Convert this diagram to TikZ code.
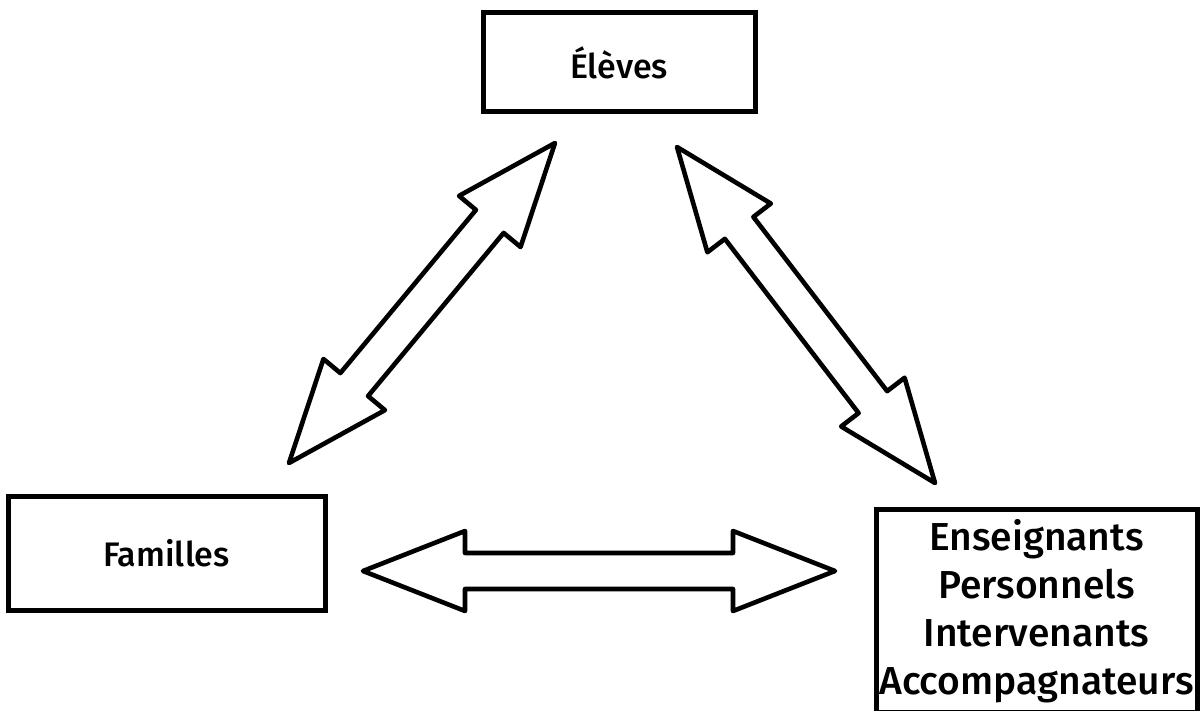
\documentclass[tikz,border=0pt]{standalone}
\usepackage{fontspec}
\setmainfont{Fira Sans}
\newfontfamily\labelfont{Fira Sans Medium}
\usetikzlibrary{calc}
\tikzset{
  boite/.style={draw,line width=2.5pt,inner sep=0pt,align=center,font=\labelfont\fontsize{17}{20}\selectfont},
  fleche/.style={line width=2.3pt,line join=round}
}
% double block arrow between two named points
\newcommand{\dblfleche}[2]{%
  \draw[fleche] let \p1=($(#2)-(#1)$), \n1={atan2(\y1,\x1)} in
    (#1) -- ($(#1)+(\n1:51pt)+(\n1+90:20pt)$) -- ($(#1)+(\n1:51pt)+(\n1+90:9pt)$)
    -- ($(#2)+(\n1:-51pt)+(\n1+90:9pt)$) -- ($(#2)+(\n1:-51pt)+(\n1+90:20pt)$)
    -- (#2) -- ($(#2)+(\n1:-51pt)+(\n1-90:20pt)$) -- ($(#2)+(\n1:-51pt)+(\n1-90:9pt)$)
    -- ($(#1)+(\n1:51pt)+(\n1-90:9pt)$) -- ($(#1)+(\n1:51pt)+(\n1-90:20pt)$) -- cycle;}
\begin{document}
\begin{tikzpicture}[x=0.5pt,y=-0.5pt]
  \useasboundingbox (0,0) rectangle (1201,711);
  \node[boite,minimum width=136pt,minimum height=49.5pt] (eleves) at (619,62.5) {Élèves};
  \node[boite,minimum width=158.5pt,minimum height=56.5pt] (familles) at (166.5,553.5) {Familles};
  \node[boite,minimum width=160.5pt,minimum height=101pt,font=\labelfont\fontsize{19.5}{24}\selectfont] (equipe) at (1036.5,611)
    {Enseignants\\Personnels\\Intervenants\\Accompagnateurs};
  \coordinate (fe) at (289,463); \coordinate (ef) at (555,143);
  \coordinate (ee) at (677,147); \coordinate (pe) at (935,483);
  \coordinate (fp) at (363,571); \coordinate (pf) at (835,571);
  \dblfleche{fe}{ef}
  \dblfleche{ee}{pe}
  \dblfleche{fp}{pf}
\end{tikzpicture}
\end{document}
